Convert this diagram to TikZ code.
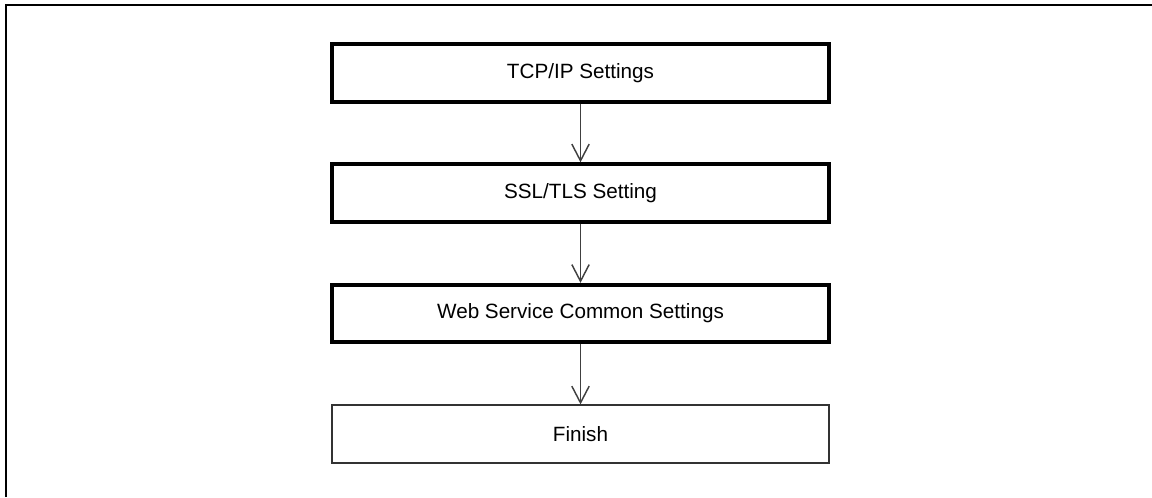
\documentclass[tikz,border=0pt]{standalone}
\usepackage{fontspec}
\setmainfont{Liberation Sans}
\usetikzlibrary{arrows.meta}

\tikzset{every picture/.style={line width=0.75pt}}
\tikzset{
  stepbox/.style={draw, line width=3pt, minimum width=373pt, minimum height=43pt, inner sep=0pt, font=\fontsize{15.5}{18}\selectfont},
  endbox/.style={stepbox, line width=1.4pt, draw=black!80},
  flowarrow/.style={draw=black!75, line width=0.75pt, -{Straight Barb[length=12.5pt,width=13pt,line width=1.1pt]}}
}

\begin{document}
\begin{tikzpicture}[x=0.75pt,y=0.75pt,yscale=-1,xscale=1]
\useasboundingbox (0,0) rectangle (1152,497);
% frame
\draw [line width=1.5pt] (6,497) -- (6,5) -- (1152,5);
% steps
\node [stepbox] (tcp) at (580.5,73) {TCP/IP Settings};
\node [stepbox] (ssl) at (580.5,193) {SSL/TLS Setting};
\node [stepbox] (web) at (580.5,313.5) {Web Service Common Settings};
\node [endbox] (fin) at (580.5,434) {Finish};
\draw [flowarrow] (tcp.south) -- (ssl.north);
\draw [flowarrow] (ssl.south) -- (web.north);
\draw [flowarrow] (web.south) -- (fin.north);
\end{tikzpicture}
\end{document}
